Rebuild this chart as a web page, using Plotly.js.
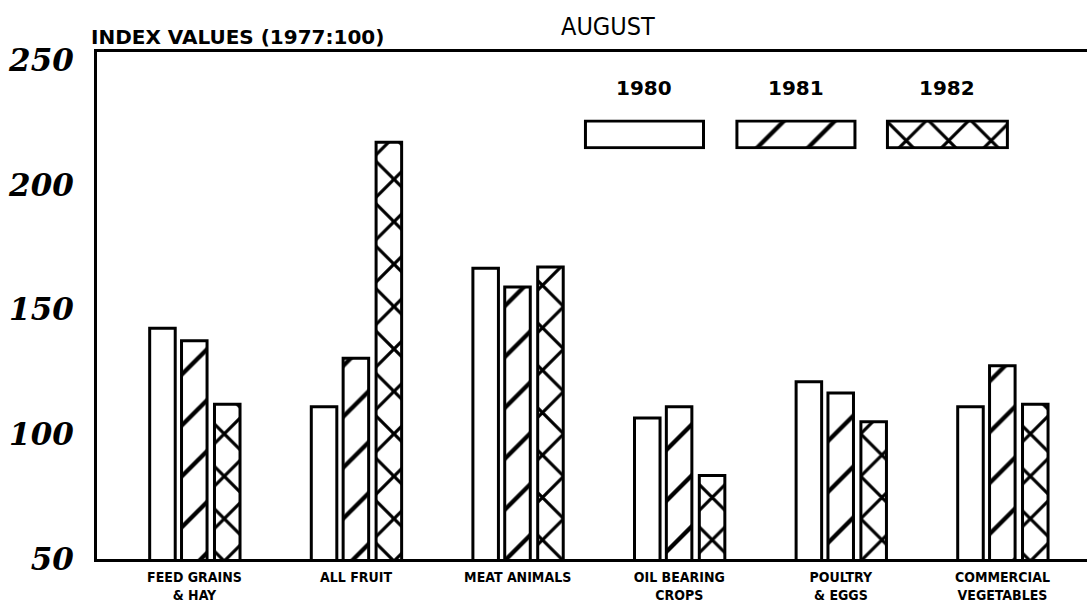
<!DOCTYPE html>
<html>
<head>
<meta charset="utf-8">
<script src="https://cdn.plot.ly/plotly-3.0.1.min.js"></script>
<style>
  html, body { margin: 0; padding: 0; background: #fff; }
  #chart { width: 1087px; height: 606px; }
</style>
</head>
<body>
<div id="chart"></div>
<script>
// ---- data ----
const categories = [
  "FEED GRAINS<br>& HAY",
  "ALL FRUIT",
  "MEAT ANIMALS",
  "OIL BEARING<br>CROPS",
  "POULTRY<br>& EGGS",
  "COMMERCIAL<br>VEGETABLES"
];
const years = ["1980", "1981", "1982"];
const values1980 = [142.5, 111, 166.5, 106.5, 121, 111];
const values1981 = [137.5, 130.5, 159, 111, 116.5, 127.5];
const values1982 = [112, 217, 167, 83.5, 105, 112];
const yTicks = [50, 100, 150, 200, 250];

const seriesValues = [values1980, values1981, values1982];

// ---- styling ----
const patterns = [
  { shape: "", fgcolor: "#000", bgcolor: "#fff" },
  { shape: "/", size: 36, solidity: 0.12, fgcolor: "#000", bgcolor: "#fff", fillmode: "replace" },
  { shape: "x", size: 30, solidity: 0.2, fgcolor: "#000", bgcolor: "#fff", fillmode: "replace" }
];
const offsets = [-0.277, -0.08, 0.124];
const barWidth = 0.158;

const traces = [];
years.forEach((yr, i) => {
  traces.push({
    type: "bar",
    name: yr,
    x: categories,
    y: seriesValues[i],
    width: barWidth,
    offset: offsets[i],
    marker: {
      color: "#fff",
      line: { color: "#000", width: 3 },
      pattern: patterns[i]
    },
    showlegend: false,
    hoverinfo: "x+y"
  });
});

// custom legend: one small inset axis per year
const legendBoxes = [
  [0.491, 0.615],
  [0.644, 0.768],
  [0.796, 0.922]
];
const legendY = [0.808, 0.867];

const layout = {
  width: 1087,
  height: 606,
  margin: { l: 97, r: 0, t: 52, b: 47 },
  paper_bgcolor: "#fff",
  plot_bgcolor: "#fff",
  barmode: "overlay",
  showlegend: false,
  xaxis: {
    type: "category",
    range: [-0.603, 5.523],
    showline: true,
    linecolor: "#000",
    linewidth: 3,
    mirror: true,
    ticks: "",
    showgrid: false,
    zeroline: false,
    tickfont: { family: "DejaVu Sans Condensed", size: 14, weight: "bold", color: "#000" },
    ticklabelstandoff: 3
  },
  yaxis: {
    range: [50, 253.2],
    tickvals: yTicks,
    showline: true,
    linecolor: "#000",
    linewidth: 3,
    ticks: "",
    showgrid: false,
    zeroline: false,
    tickfont: { family: "DejaVu Serif", size: 31, weight: "bold", style: "italic", color: "#000" },
    ticklabelstandoff: 14
  },
  annotations: [
    {
      text: "AUGUST", xref: "paper", yref: "paper", x: 0.516, y: 1, yshift: 26,
      xanchor: "center", yanchor: "middle", showarrow: false,
      font: { family: "DejaVu Sans Condensed", size: 25, color: "#000" }
    },
    {
      text: "INDEX VALUES (1977:100)", xref: "paper", yref: "paper", x: -0.008, y: 1, yshift: 15,
      xanchor: "left", yanchor: "middle", showarrow: false,
      font: { family: "DejaVu Sans", size: 20, weight: "bold", color: "#000" }
    }
  ]
};

years.forEach((yr, i) => {
  const xa = "xaxis" + (i + 2), ya = "yaxis" + (i + 2);
  layout[xa] = { domain: legendBoxes[i], range: [-0.02, 1.02], visible: false, fixedrange: true, anchor: "y" + (i + 2) };
  layout[ya] = { domain: legendY, range: [-0.56, 0.56], visible: false, fixedrange: true, anchor: "x" + (i + 2) };
  traces.push({
    type: "bar",
    orientation: "h",
    x: [1],
    y: [0],
    width: 1,
    xaxis: "x" + (i + 2),
    yaxis: "y" + (i + 2),
    cliponaxis: false,
    marker: {
      color: "#fff",
      line: { color: "#000", width: 3 },
      pattern: patterns[i]
    },
    showlegend: false,
    hoverinfo: "skip"
  });
  layout.annotations.push({
    text: yr, xref: "paper", yref: "paper",
    x: (legendBoxes[i][0] + legendBoxes[i][1]) / 2, y: legendY[1], yshift: 31,
    xanchor: "center", yanchor: "middle", showarrow: false,
    font: { family: "DejaVu Sans", size: 20, weight: "bold", color: "#000" }
  });
});

Plotly.newPlot("chart", traces, layout, { displayModeBar: false, staticPlot: true });
</script>
</body>
</html>
